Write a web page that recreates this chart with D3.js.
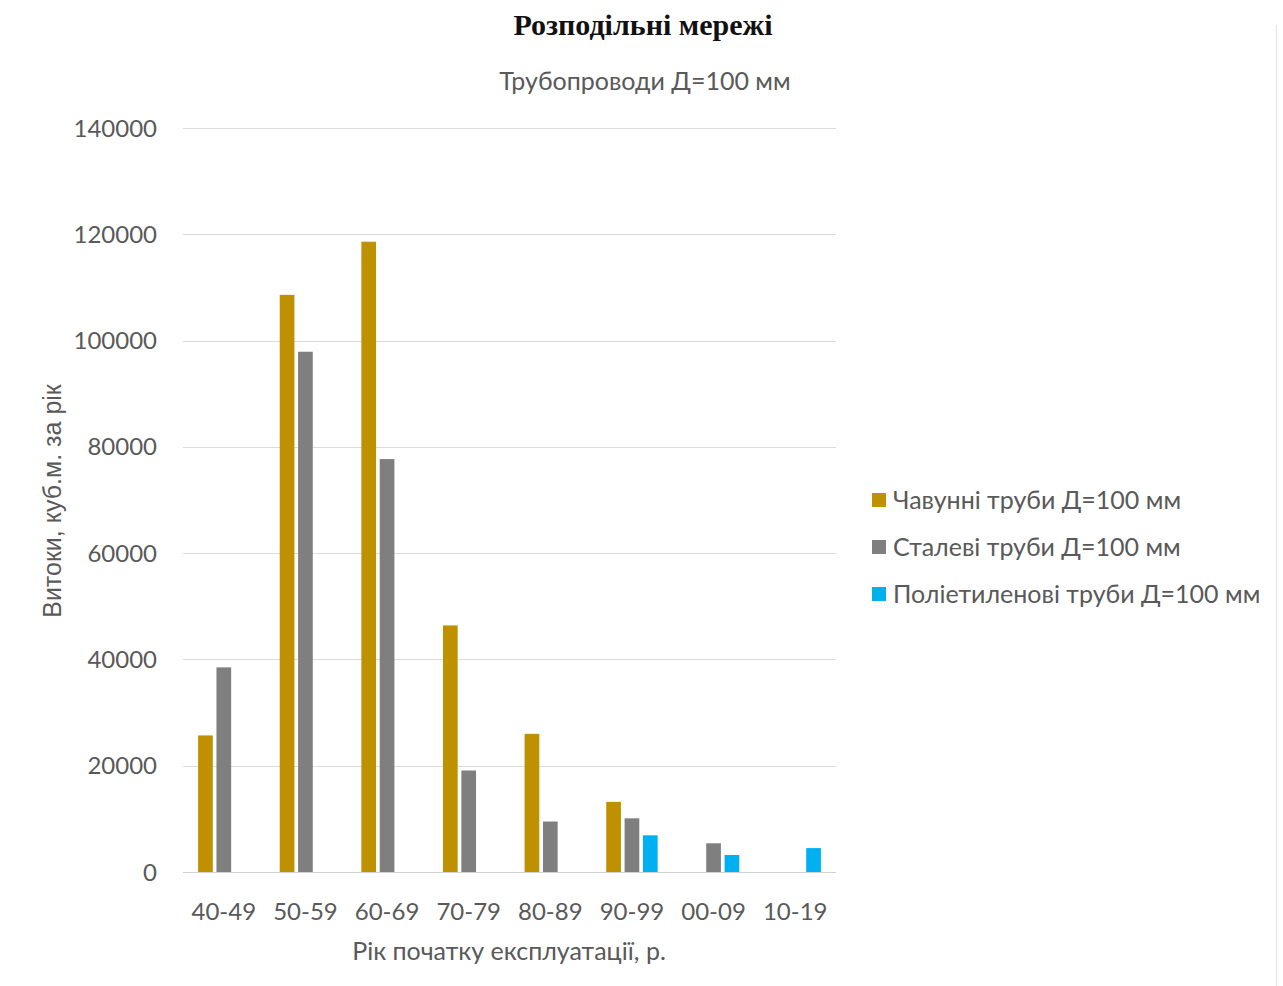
<!DOCTYPE html>
<html><head><meta charset="utf-8">
<script src="https://cdn.jsdelivr.net/npm/d3@7"></script>
<style>body{margin:0;background:#fff}svg{display:block}</style>
</head><body>
<svg id="c" width="1283" height="986"></svg>
<script>
const categories = ["40-49","50-59","60-69","70-79","80-89","90-99","00-09","10-19"];
const seriesNames = ["Чавунні труби Д=100 мм","Сталеві труби Д=100 мм","Поліетиленові труби Д=100 мм"];
const castIron = [25700,108600,118600,46400,26000,13200,null,null];
const steel = [38500,97900,77700,19100,9500,10100,5400,null];
const polyethylene = [null,null,null,null,null,6900,3200,4500];
const yTicks = [0,20000,40000,60000,80000,100000,120000,140000];
const colors = ["#BF9000","#7F7F7F","#00B0F0"];
const seriesValues = [castIron, steel, polyethylene];

const svg = d3.select("#c");
const font = "Lato, 'Open Sans', sans-serif";
const txt = "#595959";

const x0 = d3.scaleBand().domain(categories).range([183,836]).paddingInner(0.37).paddingOuter(0.185);
const x1 = d3.scaleBand().domain(d3.range(3)).range([0,x0.bandwidth()]).paddingInner(0.2).paddingOuter(0);
const y = d3.scaleLinear().domain([0,140000]).range([872,128]);

// gridlines
svg.append("g").selectAll("line").data(yTicks).join("line")
  .attr("x1",183).attr("x2",836)
  .attr("y1",d=>Math.round(y(d))+0.5).attr("y2",d=>Math.round(y(d))+0.5)
  .attr("stroke",d=>d===0?"#d0d0d0":"#dcdcdc").attr("stroke-width",1.2);

// y tick labels
svg.append("g").selectAll("text").data(yTicks).join("text")
  .attr("x",157).attr("y",d=>y(d)).attr("dy","0.36em")
  .attr("text-anchor","end").attr("font-family",font).attr("font-size",24)
  .attr("fill",txt).text(d=>d);

// bars
seriesValues.forEach((vals,si)=>{
  svg.append("g").selectAll("rect")
    .data(categories.map((c,i)=>({c,v:vals[i]})).filter(d=>d.v!=null))
    .join("rect")
    .attr("x",d=>x0(d.c)+x1(si)).attr("width",x1.bandwidth())
    .attr("y",d=>y(d.v)).attr("height",d=>y(0)-y(d.v))
    .attr("fill",colors[si]);
});

// x tick labels
svg.append("g").selectAll("text").data(categories).join("text")
  .attr("x",d=>x0(d)+x0.bandwidth()/2).attr("y",911).attr("dy","0.36em")
  .attr("text-anchor","middle").attr("font-family",font).attr("font-size",24)
  .attr("fill",txt).text(d=>d);

// axis titles
svg.append("text").attr("x",509).attr("y",951).attr("dy","0.36em")
  .attr("text-anchor","middle").attr("font-family",font).attr("font-size",25)
  .attr("fill",txt).text("Рік початку експлуатації, р.");
svg.append("text").attr("transform","translate(52,501) rotate(-90)").attr("dy","0.36em")
  .attr("text-anchor","middle").attr("font-family","'Liberation Sans', Arial, sans-serif").attr("font-size",25)
  .attr("fill",txt).text("Витоки, куб.м. за рік");

// titles
svg.append("text").attr("x",643).attr("y",24).attr("dy","0.36em")
  .attr("text-anchor","middle").attr("font-family","'Liberation Serif', 'Times New Roman', serif")
  .attr("font-weight","bold").attr("font-size",30).attr("fill","#111").text("Розподільні мережі");
svg.append("text").attr("x",645).attr("y",81).attr("dy","0.36em")
  .attr("text-anchor","middle").attr("font-family",font).attr("font-size",25)
  .attr("fill",txt).text("Трубопроводи Д=100 мм");

// legend
const lg = svg.append("g").selectAll("g").data(seriesNames).join("g")
  .attr("transform",(d,i)=>`translate(872,${500+i*47})`);
lg.append("rect").attr("x",0).attr("y",-7).attr("width",14).attr("height",14).attr("fill",(d,i)=>colors[i]);
lg.append("text").attr("x",21).attr("y",0).attr("dy","0.36em").attr("font-family",font)
  .attr("font-size",25).attr("fill",txt).text(d=>d);

// faint right border
svg.append("line").attr("x1",1276.5).attr("x2",1276.5).attr("y1",25).attr("y2",986)
  .attr("stroke","#e4e4e4").attr("stroke-width",1);
</script>
</body></html>
